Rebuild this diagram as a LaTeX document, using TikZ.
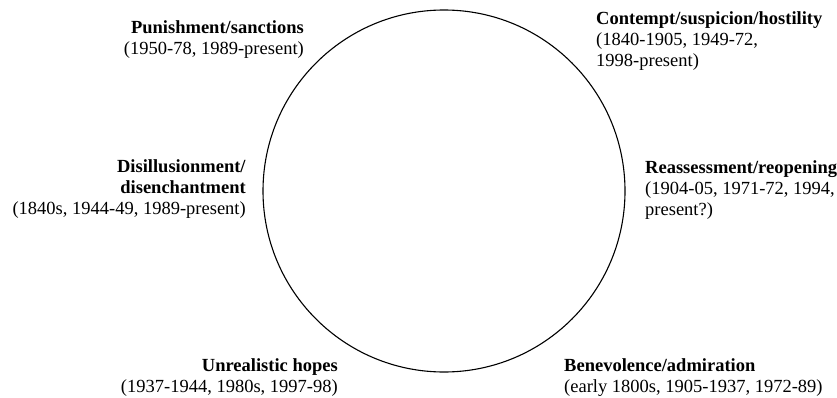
\documentclass[tikz,border=0pt]{standalone}
\usepackage{fontspec}
\setmainfont{Liberation Serif}
\usepackage{tikz}

\tikzset{
  phase/.style={inner sep=0, font=\fontsize{18.5}{21}\selectfont},
  phaseleft/.style={phase, anchor=north west, align=left},
  phaseright/.style={phase, anchor=north east, align=right}
}

\begin{document}
\begin{tikzpicture}[x=1pt,y=1pt]

\useasboundingbox (0,0) rectangle (837,397);

\draw [line width=1.1pt] (444,206) circle (181);

\node (punish) [phaseright] at (304,377) {\textbf{Punishment/sanctions}\\(1950-78, 1989-present)};

\node (contempt) [phaseleft] at (596,386) {\textbf{Contempt/suspicion/hostility}\\(1840-1905, 1949-72,\\1998-present)};

\node (disill) [phaseright] at (246,238) {\textbf{Disillusionment/}\\\textbf{disenchantment}\\(1840s, 1944-49, 1989-present)};

\node (reassess) [phaseleft] at (645,237) {\textbf{Reassessment/reopening}\\(1904-05, 1971-72, 1994,\\present?)};

\node (hopes) [phaseright] at (338,39) {\textbf{Unrealistic hopes}\\(1937-1944, 1980s, 1997-98)};

\node (benev) [phaseleft] at (564,39) {\textbf{Benevolence/admiration}\\(early 1800s, 1905-1937, 1972-89)};

\end{tikzpicture}
\end{document}
